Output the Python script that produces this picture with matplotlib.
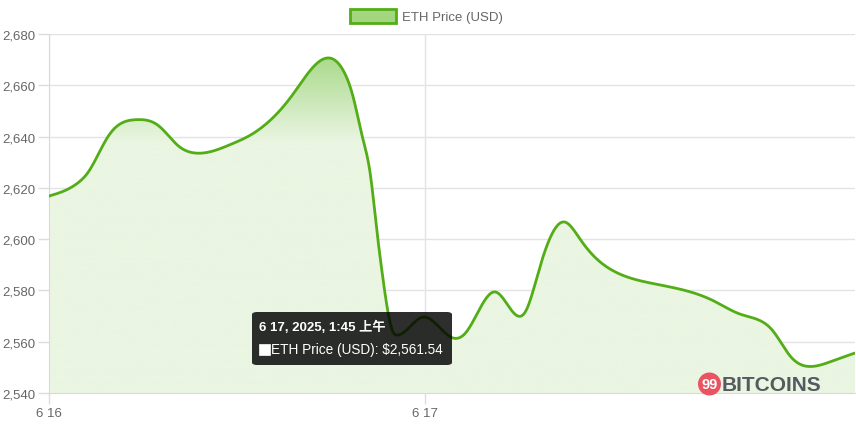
import numpy as np
import matplotlib
matplotlib.use("Agg")
import matplotlib.pyplot as plt
from matplotlib.patches import FancyBboxPatch, Rectangle, Ellipse
from matplotlib.colors import LinearSegmentedColormap

# ---- data (hours since 6/16 00:00, ETH price in USD) ----
hours = [0, 1.9, 2.5, 3.8, 5.6, 7.0, 8.25, 9.3, 11.66, 12.72, 15.5, 17.5, 18.9,
         19.4, 20.04, 20.49, 20.94, 21.26, 21.57, 21.96, 22.2, 23.87, 25.75,
         26.6, 28.5, 30.4, 31.3, 32.9, 33.9, 34.96, 36.0, 38.15, 40.9, 42.4,
         44.1, 45.4, 46.2, 47.3, 48.8, 50.06, 51.45]
prices = [2616.8, 2622.2, 2626.1, 2640.3, 2646.6, 2644.2, 2636.4, 2633.6, 2637.1,
          2640.1, 2655.9, 2670.2, 2664.4, 2655.8, 2639.0, 2626.2, 2602.8, 2587.2,
          2574.0, 2563.8, 2562.6, 2569.6, 2561.54, 2563.5, 2579.4, 2571.6,
          2588.4, 2606.7, 2600.0, 2592.3, 2587.7, 2583.2, 2579.5, 2576.0,
          2570.8, 2568.2, 2564.3, 2554.5, 2550.4, 2552.6, 2555.6]
x_tick_pos = [0, 24]
x_tick_labels = ["6 16", "6 17"]
y_ticks = [2540, 2560, 2580, 2600, 2620, 2640, 2660, 2680]
series_label = "ETH Price (USD)"
tooltip_title = "6 17, 2025, 1:45 上午"
tooltip_body = "ETH Price (USD): $2,561.54"

LINE = "#52ad16"
FONT = ["Liberation Sans", "DejaVu Sans"]
CJK = ["Liberation Sans", "Noto Sans CJK SC", "DejaVu Sans"]

W, H = 856, 427
L, R, T, B = 49, 855, 35, 394
xmin, xmax = hours[0], hours[-1]
ymin, ymax = 2540, 2680


def natural_spline(x, y, xs):
    """Natural cubic spline for drawing a smooth line through the points."""
    x = np.asarray(x, float); y = np.asarray(y, float)
    n = len(x); h = np.diff(x)
    A = np.zeros((n, n)); rhs = np.zeros(n)
    A[0, 0] = A[-1, -1] = 1
    for i in range(1, n - 1):
        A[i, i - 1] = h[i - 1]; A[i, i] = 2 * (h[i - 1] + h[i]); A[i, i + 1] = h[i]
        rhs[i] = 6 * ((y[i + 1] - y[i]) / h[i] - (y[i] - y[i - 1]) / h[i - 1])
    M = np.linalg.solve(A, rhs)
    idx = np.clip(np.searchsorted(x, xs) - 1, 0, n - 2)
    hi = h[idx]; a = x[idx + 1] - xs; b = xs - x[idx]
    return (M[idx] * a**3 / (6 * hi) + M[idx + 1] * b**3 / (6 * hi)
            + (y[idx] / hi - M[idx] * hi / 6) * a + (y[idx + 1] / hi - M[idx + 1] * hi / 6) * b)


fig = plt.figure(figsize=(W / 100, H / 100), dpi=100)
ax = fig.add_axes([L / W, 1 - B / H, (R - L) / W, (B - T) / H])

xs = np.linspace(xmin, xmax, 2000)
ys = natural_spline(hours, prices, xs)

# gradient fill
poly = ax.fill_between(xs, ys, ymin, color="none", lw=0)
cmap = LinearSegmentedColormap.from_list("g", [(0, "#eaf5e2"), (1, "#a9d98a")])
vals = np.linspace(ymin, ymax, 400)
grad = np.clip((vals - 2638) / (2672 - 2638), 0, 1)[:, None]
img = ax.imshow(grad, extent=[xmin, xmax, ymin, ymax], origin="lower",
                aspect="auto", cmap=cmap, vmin=0, vmax=1, zorder=1)
img.set_clip_path(poly.get_paths()[0], transform=ax.transData)

ax.plot(xs, ys, color=LINE, lw=2, zorder=3, solid_capstyle="round")

ax.set_xlim(xmin, xmax)
ax.set_ylim(ymin, ymax)
ax.set_yticks(y_ticks)
ax.set_yticklabels([f"{v:,}" for v in y_ticks])
ax.set_xticks(x_tick_pos)
ax.set_xticklabels(x_tick_labels)
ax.grid(True, color="#e3e3e3", lw=1, zorder=0)
for s in ["top", "right"]:
    ax.spines[s].set_visible(False)
for s in ["left", "bottom"]:
    ax.spines[s].set_color("#d9d9d9")
ax.tick_params(axis="both", colors="#dddddd", length=8, width=1,
               labelcolor="#666666", labelsize=9.5, pad=2)
for lab in ax.get_xticklabels() + ax.get_yticklabels():
    lab.set_family(FONT)
ax.set_axisbelow(True)

# legend
fig.patches.append(Rectangle((350 / W, 1 - 24 / H), 46 / W, 14 / H,
                             transform=fig.transFigure, facecolor="#a3d67e",
                             edgecolor=LINE, lw=2))
fig.text(402 / W, 1 - 17.5 / H, series_label, fontsize=9.5, color="#666666",
         va="center", ha="left", family=FONT)

# tooltip
fig.patches.append(FancyBboxPatch((252 / W, 1 - 366 / H), 200 / W, 53 / H,
                                  boxstyle="round,pad=0,rounding_size=0.006",
                                  transform=fig.transFigure, facecolor=(0, 0, 0, 0.82),
                                  edgecolor="none", zorder=10))
fig.text(259 / W, 1 - 327 / H, tooltip_title, fontsize=9.5, color="white",
         weight="bold", va="center", ha="left", family=CJK, zorder=11)
fig.patches.append(Rectangle((259 / W, 1 - 356 / H), 11 / W, 11 / H,
                             transform=fig.transFigure, facecolor="white",
                             edgecolor="white", lw=0.5, zorder=11))
fig.text(271 / W, 1 - 350.5 / H, tooltip_body, fontsize=9.8, color="white",
         va="center", ha="left", family=FONT, zorder=11)

# watermark
fig.patches.append(Ellipse((709.5 / W, 1 - 385 / H), 23 / W, 23 / H, transform=fig.transFigure,
                           facecolor="#ea5361", edgecolor="none", zorder=5))
fig.text(709.5 / W, 1 - 385.5 / H, "99", fontsize=10.5, color="white", weight="bold",
         va="center", ha="center", family=FONT, zorder=6)
fig.text(722 / W, 1 - 386 / H, "BITCOINS", fontsize=15, color="#555a61", weight="bold",
         va="center", ha="left", family=FONT, zorder=6)

fig.savefig("out.png", dpi=100)
